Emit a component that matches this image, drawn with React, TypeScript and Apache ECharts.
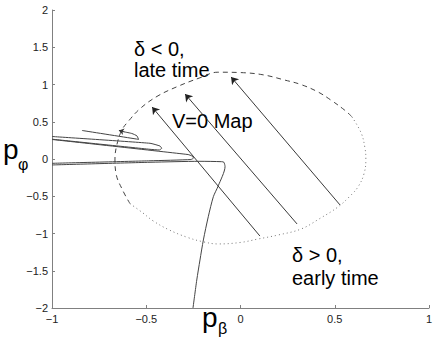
import React, { useEffect, useRef } from 'react';
import * as echarts from 'echarts';

type Pt = [number, number];

// Axis tick labels
const xTickValues = [-1, -0.5, 0, 0.5, 1];
const yTickValues = [-2, -1.5, -1, -0.5, 0, 0.5, 1, 1.5, 2];

// V=0 map curve: dashed part (delta < 0) and dotted part (delta > 0)
const mapDashed: Pt[] = [
  [0.59, 0.57], [0.553, 0.655], [0.48, 0.79], [0.411, 0.9], [0.32, 1.0], [0.234, 1.06],
  [0.12, 1.13], [0.0, 1.16], [-0.12, 1.165], [-0.215, 1.09], [-0.337, 0.97], [-0.443, 0.84],
  [-0.533, 0.675], [-0.597, 0.5], [-0.629, 0.39], [-0.655, 0.2], [-0.666, 0.0],
  [-0.66, -0.2], [-0.625, -0.42], [-0.586, -0.6],
];
const mapDotted: Pt[] = [
  [-0.586, -0.6], [-0.52, -0.72], [-0.464, -0.83], [-0.38, -0.95], [-0.284, -1.05],
  [-0.2, -1.11], [-0.119, -1.14], [0.0, -1.12], [0.093, -1.074], [0.2, -1.02],
  [0.321, -0.94], [0.42, -0.8], [0.517, -0.644], [0.58, -0.5], [0.623, -0.376],
  [0.655, -0.2], [0.665, 0.0], [0.66, 0.15], [0.64, 0.35], [0.59, 0.57],
];

// Trajectories
const trajMain: Pt[] = [
  [-0.252, -2.0], [-0.232, -1.624], [-0.215, -1.356], [-0.197, -1.087], [-0.171, -0.775],
  [-0.144, -0.506], [-0.118, -0.36], [-0.082, -0.103], [-0.088, -0.044], [-0.1, -0.036],
  [-0.215, -0.031], [-0.48, -0.044], [-1.0, -0.08],
];
const trajLoop2: Pt[] = [
  [-1.0, 0.262], [-0.2785, 0.06], [-0.257, 0.04], [-0.249, 0.013], [-0.263, -0.007],
  [-0.48, -0.024], [-1.0, -0.058],
];
const trajLoop1: Pt[] = [
  [-1.0, 0.302], [-0.48, 0.211], [-0.427, 0.174], [-0.418, 0.144], [-0.431, 0.121],
  [-0.48, 0.13], [-1.0, 0.266],
];
const trajShort: Pt[] = [
  [-0.841, 0.383], [-0.552, 0.268], [-0.541, 0.262], [-0.549, 0.309], [-0.576, 0.342],
  [-0.613, 0.362],
];
const trajShortHead: [Pt, Pt] = [[-0.613, 0.362], [-0.645, 0.383]];

// Flow arrows: [tail, head]
const flowArrows: [Pt, Pt][] = [
  [[0.103, -1.034], [-0.469, 0.698]],
  [[0.3, -0.872], [-0.294, 0.872]],
  [[0.528, -0.617], [-0.05, 1.101]],
];

const FONT = '"Liberation Sans", Arial, Helvetica, sans-serif';
const fmt = (v: number) => String(v).replace('-', '\u2212');

export default function App() {
  const ref = useRef<HTMLDivElement>(null);
  useEffect(() => {
    const chart = echarts.init(ref.current!, null, { renderer: 'svg' });
    const traj = (data: Pt[], smooth: number) => ({
      type: 'line',
      data,
      smooth,
      showSymbol: false,
      symbol: 'none',
      silent: true,
      lineStyle: { width: 1, color: '#444' },
    });
    const text = (t: string, x: number, y: number, size: number) => ({
      type: 'text',
      x,
      y,
      silent: true,
      style: { text: t, fontSize: size, fontFamily: FONT, fill: '#000', align: 'left', verticalAlign: 'middle' },
    });
    chart.setOption({
      animation: false,
      grid: { left: 52, right: 7, top: 10, bottom: 40, containLabel: false },
      xAxis: {
        type: 'value',
        min: -1,
        max: 1,
        interval: 0.5,
        axisLine: { onZero: false, lineStyle: { color: '#808080', width: 1 } },
        axisTick: { inside: true, length: 3, lineStyle: { color: '#808080' } },
        axisLabel: {
          margin: 5,
          fontSize: 11,
          fontFamily: FONT,
          color: '#222',
          formatter: (v: number) => (xTickValues.includes(v) ? fmt(v) : ''),
        },
        splitLine: { show: false },
      },
      yAxis: {
        type: 'value',
        min: -2,
        max: 2,
        interval: 0.5,
        axisLine: { show: true, onZero: false, lineStyle: { color: '#808080', width: 1 } },
        axisTick: { show: true, inside: true, length: 3, lineStyle: { color: '#808080' } },
        axisLabel: {
          margin: 4,
          fontSize: 11,
          fontFamily: FONT,
          color: '#222',
          formatter: (v: number) => (yTickValues.includes(v) ? fmt(v) : ''),
        },
        splitLine: { show: false },
      },
      series: [
        {
          type: 'line',
          data: mapDashed,
          smooth: 0.4,
          showSymbol: false,
          symbol: 'none',
          silent: true,
          lineStyle: { width: 1, color: '#444', type: [5, 4] },
        },
        {
          type: 'line',
          data: mapDotted,
          smooth: 0.4,
          showSymbol: false,
          symbol: 'none',
          silent: true,
          lineStyle: { width: 1, color: '#777', type: [1, 3] },
        },
        traj(trajMain, 0.25),
        traj(trajLoop2, 0.15),
        traj(trajLoop1, 0.15),
        traj(trajShort, 0.2),
        {
          type: 'lines',
          coordinateSystem: 'cartesian2d',
          silent: true,
          symbol: ['none', 'arrow'],
          symbolSize: 7,
          lineStyle: { color: '#222', width: 0.9, opacity: 1, curveness: 0 },
          data: flowArrows.map((a) => ({ coords: a })),
        },
        {
          type: 'lines',
          coordinateSystem: 'cartesian2d',
          silent: true,
          symbol: ['none', 'arrow'],
          symbolSize: 5,
          lineStyle: { color: '#333', width: 1, opacity: 1, curveness: 0 },
          data: [{ coords: trajShortHead }],
        },
      ],
      graphic: [
        text('δ < 0,', 134, 48.5, 20),
        text('late time', 134, 69.5, 20),
        text('V=0 Map', 172, 121, 20),
        text('δ > 0,', 292, 255, 20),
        text('early time', 292, 278, 20),
        text('p', 3, 149, 28),
        text('φ', 18, 164, 16),
        text('p', 202, 317, 28),
        text('β', 218, 328, 16),
      ],
    });
    return () => chart.dispose();
  }, []);
  return <div ref={ref} style={{ position: 'absolute', left: 0, top: 0, width: 436, height: 348 }} />;
}
